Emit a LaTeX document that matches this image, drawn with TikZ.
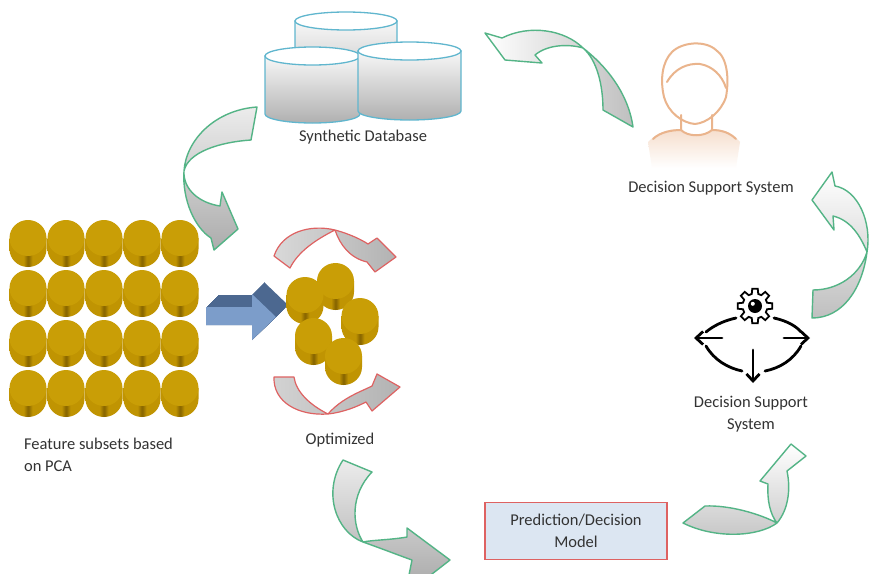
\documentclass[tikz,border=0pt]{standalone}
\usepackage{fontspec}
\setmainfont{Carlito}
\usetikzlibrary{arrows.meta}

\definecolor{dbblue}{RGB}{96,182,206}
\definecolor{gold}{RGB}{201,158,6}
\definecolor{goldside}{RGB}{192,148,2}
\definecolor{golddark}{RGB}{132,98,0}
\definecolor{leafgreen}{RGB}{84,180,134}
\definecolor{softred}{RGB}{222,98,98}
\definecolor{peach}{RGB}{234,180,140}
\definecolor{boxblue}{RGB}{220,230,242}
\definecolor{arrowlight}{RGB}{124,157,202}
\definecolor{arrowdark}{RGB}{76,104,144}

\pgfdeclarehorizontalshading{goldbody}{100bp}{color(0bp)=(goldside); color(25bp)=(goldside);
  color(44bp)=(goldside); color(50bp)=(golddark); color(56bp)=(goldside); color(75bp)=(goldside);
  color(100bp)=(goldside)}

% gold cylinder, #1,#2 = centre of the top face
\newcommand{\goldcyl}[2]{%
  \shade[shading=goldbody] (#1-18.5,#2) -- (#1-18.5,#2+11)
    arc[start angle=180, end angle=0, x radius=18.5, y radius=18] -- (#1+18.5,#2) -- cycle;
  \fill[gold] (#1,#2) ellipse[x radius=18.5, y radius=18];
}

% database drum: centre x, top y, bottom y, x radius
\newcommand{\dbdrum}[4]{%
  \draw[dbline, top color=gray!6, bottom color=gray!62] (#1-#4,#2) -- (#1-#4,#3)
    arc[start angle=180, end angle=0, x radius=#4, y radius=9] -- (#1+#4,#2) -- cycle;
  \draw[dbline, fill=white] (#1,#2) ellipse[x radius=#4, y radius=9];
}

\begin{document}
\begin{tikzpicture}[
  x=1pt, y=-1pt,
  every node/.style={font=\fontsize{16.5}{22}\selectfont, text=black!80},
  dbline/.style={draw=dbblue, line width=1.3pt},
  greenarrow/.style={draw=leafgreen, line width=1.4pt, line join=round},
  redarrow/.style={draw=softred, line width=1.2pt, line join=round},
  iconline/.style={line width=2.8pt, line cap=round},
  personline/.style={draw=peach, line width=2pt, line cap=round, line join=round},
  modelbox/.style={draw=softred, fill=boxblue, line width=1.2pt,
    minimum width=182pt, minimum height=57pt, align=center},
]
\useasboundingbox (0,0) rectangle (872,573);
\fill[white] (0,0) rectangle (872,573);

% synthetic database
\dbdrum{346}{21}{100}{51}
\dbdrum{312.5}{56}{114}{47.5}
\dbdrum{409.5}{51}{111}{51.5}
\node (dbLabel) at (363,137) {Synthetic Database};

% feature subsets
\foreach \i in {0,...,4}
  \foreach \j in {0,...,3} {
    \goldcyl{28+38*\i}{238+50*\j}
  }
\node[align=left] (pcaLabel) at (98.5,455) {Feature subsets based\\on PCA};

% blue block arrow
\foreach \k in {0,1,...,12}
  \fill[arrowdark, shift={(\k,-\k)}] (206,307) -- (252,307) -- (252,294) -- (276,317)
    -- (252,340) -- (252,325) -- (206,325) -- cycle;
\fill[arrowlight] (206,307) -- (252,307) -- (252,294) -- (276,317)
  -- (252,340) -- (252,325) -- (206,325) -- cycle;

% turning arrows round the optimized set
\draw[redarrow, left color=gray!30, middle color=white, right color=gray!60]
  (274,256) .. controls (282,232) and (310,224) .. (335,230)
  .. controls (350,234) and (362,240) .. (368,244) -- (377,238) -- (396,257) -- (375,272) -- (367,262)
  .. controls (350,258) and (340,245) .. (335,230)
  .. controls (315,240) and (298,252) .. (290,268) -- cycle;
\draw[redarrow, left color=gray!35, middle color=white, right color=gray!60]
  (274,377) .. controls (273,402) and (298,416) .. (328,414)
  .. controls (345,412) and (358,406) .. (366,402) -- (372,411) -- (400,387) -- (377,374) -- (372,386)
  .. controls (360,392) and (342,398) .. (328,414)
  .. controls (310,405) and (296,392) .. (294,377) -- cycle;

% optimized set
\goldcyl{335.5}{281}
\goldcyl{305}{295}
\goldcyl{360}{316}
\goldcyl{313.5}{336}
\goldcyl{343.5}{356}
\node (optLabel) at (340,440) {Optimized};

% green flow arrows
\draw[greenarrow, top color=gray!15, bottom color=gray!65]
  (257,107) .. controls (215,110) and (186,140) .. (184,171)
  .. controls (183,190) and (200,203) .. (220,206) -- (222,192) -- (238,229) -- (214,250) -- (211,238)
  .. controls (195,228) and (182,200) .. (184,171)
  .. controls (188,152) and (220,142) .. (251,140) -- cycle;
\draw[greenarrow, left color=white, right color=gray!50]
  (485,33) -- (502,38) .. controls (530,24) and (565,30) .. (583,48)
  .. controls (605,65) and (628,92) .. (633,127) -- (603,110)
  .. controls (603,85) and (597,60) .. (583,48)
  .. controls (570,44) and (548,44) .. (535,55) -- (542,63) -- (505,60) -- cycle;
\draw[greenarrow, top color=white, bottom color=gray!50]
  (812,200) -- (832,172) -- (835,186) .. controls (858,190) and (872,222) .. (867,252)
  .. controls (862,290) and (842,318) .. (812,318) -- (813,290)
  .. controls (838,290) and (860,275) .. (867,252)
  .. controls (860,235) and (850,220) .. (833,216) -- (834,230) -- cycle;
\draw[greenarrow, top color=gray!15, bottom color=gray!70]
  (343,460) .. controls (322,492) and (336,532) .. (363,542)
  .. controls (380,548) and (398,555) .. (412,560) -- (405,595) -- (450,560) -- (407,528) -- (407,537)
  .. controls (390,540) and (372,540) .. (363,542)
  .. controls (352,525) and (350,495) .. (372,472) -- cycle;
\draw[greenarrow, top color=white, bottom color=gray!45]
  (683,523) .. controls (715,539) and (758,537) .. (777,523)
  .. controls (788,510) and (791,490) .. (787,471) -- (806,456) -- (791,444) -- (760,481) -- (768,484)
  .. controls (767,500) and (770,514) .. (777,523)
  .. controls (760,514) and (730,505) .. (705,506) -- cycle;

% user
\shade[top color=peach!45, bottom color=white] (648,142) .. controls (660,130) and (675,128) .. (681,130)
  .. controls (688,137) and (704,137) .. (712,130) .. controls (720,128) and (732,132) .. (740,142)
  -- (736,168) -- (652,168) -- cycle;
\draw[personline, fill=white] (664,97) .. controls (660,80) and (662,62) .. (672,52)
  .. controls (682,42) and (705,40) .. (716,50) .. controls (728,58) and (729,80) .. (726,97)
  .. controls (721,112) and (707,123) .. (695,124) .. controls (682,123) and (668,112) .. (664,97) -- cycle;
\draw[personline] (667,82) .. controls (675,68) and (688,63) .. (700,64)
  .. controls (712,66) and (722,75) .. (726,88);
\draw[personline] (681,115) -- (681,130) .. controls (688,137) and (704,137) .. (712,130) -- (712,115);
\draw[personline] (653,139) .. controls (660,132) and (672,130) .. (681,130);
\draw[personline] (712,130) .. controls (722,130) and (730,133) .. (736,139);
\node (userLabel) at (711,188) {Decision Support System};

% decision support icon
\begin{scope}[shift={(755,306)}]
  \draw[line width=1.8pt, fill=white] (-15:12.5)
    \foreach \a in {0,45,...,315} { -- (\a-15:12.5) -- (\a-9:17.5) -- (\a+9:17.5) -- (\a+15:12.5) } -- cycle;
  \fill (0,0) circle (7);
  \fill[white] (-2.2,-2.2) circle (2);
\end{scope}
\draw[iconline] (736,318) .. controls (722,321) and (712,327) .. (706,332);
\draw[iconline] (774,318) .. controls (788,321) and (797,327) .. (801,332);
\draw[iconline] (706,346) .. controls (714,360) and (728,368) .. (742,371);
\draw[iconline] (801,346) .. controls (793,360) and (780,368) .. (765,371);
\draw[iconline, -{Straight Barb[length=7pt, width=13pt]}] (722,338) -- (694,338);
\draw[iconline, -{Straight Barb[length=7pt, width=13pt]}] (784,338) -- (810,338);
\draw[iconline, -{Straight Barb[length=7pt, width=13pt]}] (753,350) -- (753,383);
\node[align=center] (dssLabel) at (751,414) {Decision Support\\System};

% model
\node[modelbox] (model) at (576,531) {Prediction/Decision\\Model};

\end{tikzpicture}
\end{document}
